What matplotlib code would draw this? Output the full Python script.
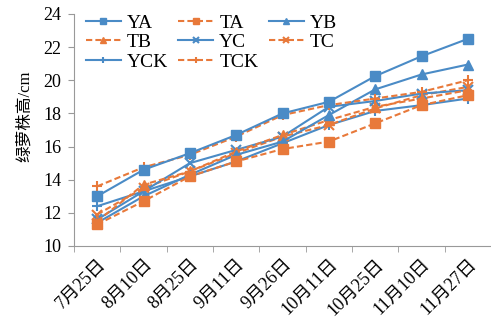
import matplotlib
matplotlib.use("Agg")
import matplotlib.pyplot as plt
from matplotlib.transforms import ScaledTranslation
import numpy as np

plt.rcParams['font.family'] = ['Liberation Serif', 'Noto Sans CJK SC']

categories = ["7月25日", "8月10日", "8月25日", "9月11日", "9月26日",
              "10月11日", "10月25日", "11月10日", "11月27日"]
YA = [13.0, 14.6, 15.6, 16.7, 18.0, 18.7, 20.25, 21.45, 22.5]
TA = [11.3, 12.7, 14.2, 15.1, 15.85, 16.3, 17.4, 18.5, 19.1]
YB = [11.4, 13.0, 14.3, 15.5, 16.3, 17.9, 19.45, 20.35, 20.95]
TB = [11.5, 13.7, 14.5, 15.7, 16.7, 17.6, 18.4, 18.9, 19.4]
YC = [11.6, 13.3, 15.0, 15.8, 16.6, 18.4, 18.75, 19.2, 19.4]
TC = [11.9, 13.5, 14.5, 15.6, 16.6, 17.3, 18.3, 19.1, 19.6]
YCK = [12.4, 13.3, 14.2, 15.1, 16.2, 17.3, 18.15, 18.5, 18.9]
TCK = [13.6, 14.75, 15.5, 16.6, 17.9, 18.5, 18.9, 19.3, 20.0]

blue = '#4A8BC6'
orange = '#E8793A'

fig = plt.figure(figsize=(4.91, 3.26), dpi=100)
ax = fig.add_axes([74/491, 1-246/326, (491-74)/491, (246-14)/326])

x = np.arange(len(categories))
series = [
    ("YA", YA, blue, '-', 's'),
    ("TB", TB, orange, '--', '^'),
    ("YCK", YCK, blue, '-', '+'),
    ("TA", TA, orange, '--', 's'),
    ("YC", YC, blue, '-', 'x'),
    ("TCK", TCK, orange, '--', '+'),
    ("YB", YB, blue, '-', '^'),
    ("TC", TC, orange, '--', 'x'),
]
draw_order = ["YCK", "TC", "YC", "TB", "YB", "TA", "TCK", "YA"]
handles = {}
for name, vals, c, ls, m in series:
    mew = 1.5 if m in ('x', '+') else 1
    kw = dict(color=c, linestyle=ls, marker=m, markersize=7,
              markeredgewidth=mew, linewidth=1.5,
              zorder=3 + draw_order.index(name))
    if ls == '--':
        kw['dashes'] = (3, 1.5)
    ln, = ax.plot(x, vals, **kw)
    handles[name] = ln

ax.set_xlim(-0.5, len(categories) - 0.5)
ax.set_ylim(10, 24)
ax.set_yticks(np.arange(10, 25, 2))
ax.set_xticks(x)
ax.set_xticklabels(categories, rotation=45, ha='right', va='top',
                   rotation_mode='anchor', fontsize=13)
offset = ScaledTranslation(5/100, 0, fig.dpi_scale_trans)
for lbl in ax.get_xticklabels():
    lbl.set_transform(lbl.get_transform() + offset)
ax.set_xticks(np.arange(-0.5, len(categories), 1), minor=True)
ax.tick_params(axis='x', which='major', length=0, pad=7)
ax.tick_params(axis='x', which='minor', length=4, color='#999999', direction='out')
ax.tick_params(axis='y', length=4, color='#999999', direction='out',
               labelsize=13, pad=5)
for s in ('top', 'right'):
    ax.spines[s].set_visible(False)
for s in ('left', 'bottom'):
    ax.spines[s].set_color('#999999')
ax.set_ylabel("绿萝株高/cm", fontsize=12)
ax.yaxis.set_label_coords(-0.098, 0.56)

names = [s[0] for s in series]
leg = ax.legend([handles[n] for n in names], names, ncol=3, loc='upper left',
                bbox_to_anchor=(0.0, 1.05), frameon=False, fontsize=14,
                handlelength=1.8, columnspacing=0.55, labelspacing=0.1,
                handletextpad=0.3, borderaxespad=0.2, markerscale=0.7)

fig.savefig("out.png", dpi=100)
